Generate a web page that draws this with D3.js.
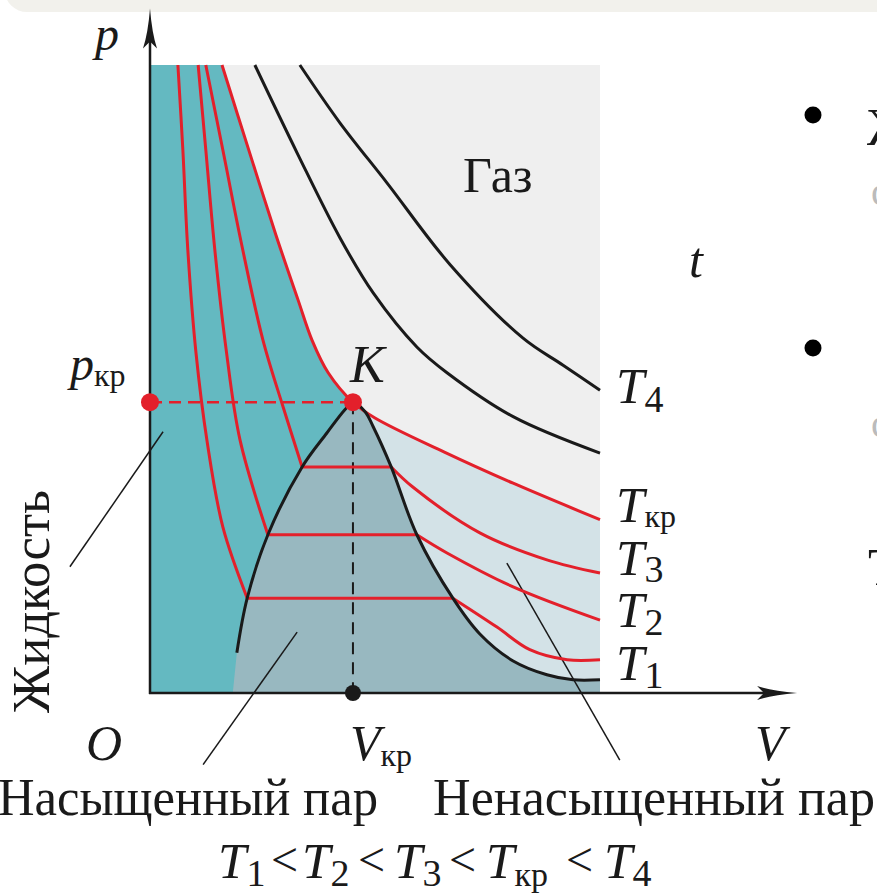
<!DOCTYPE html>
<html>
<head>
<meta charset="utf-8">
<script src="https://cdn.jsdelivr.net/npm/d3@7"></script>
<style>
    body {margin: 0; background: #fff;}
</style>
</head>
<body>
<script>
// isotherms: [V, p] in arbitrary units (0..10 on both axes)
const isoT4 = [[3.33, 10], [4.22, 9.08], [5.27, 8.12], [6.67, 6.82], [8.29, 5.65], [9.18, 5.22], [10, 4.82]];
const isoHot = [[2.33, 10], [3.29, 8.57], [4.22, 7.25], [4.96, 6.37], [5.93, 5.51], [6.6, 5.1], [8.07, 4.4], [10, 3.82]];
const isoCrit = [[1.6, 10], [2.18, 8.68], [2.8, 7.29], [3.29, 6.26], [3.6, 5.62], [3.96, 5.1], [4.51, 4.63], [5.0, 4.38], [6.53, 3.84], [8.07, 3.34], [10, 2.76]];
const iso3Liquid = [[1.24, 10], [1.64, 8.57], [2.04, 7.13], [2.51, 5.62], [2.96, 4.55], [3.38, 3.6]];
const iso3Gas = [[5.36, 3.6], [5.84, 3.28], [7.33, 2.55], [8.82, 2.12], [10, 1.91]];
const iso2Liquid = [[1.07, 10], [1.24, 8.65], [1.44, 7.06], [1.69, 5.48], [2.0, 4.03], [2.62, 2.52]];
const iso2Gas = [[5.93, 2.52], [6.6, 2.23], [8.07, 1.69], [10, 1.16]];
const iso1Liquid = [[0.62, 10], [0.73, 8.65], [0.84, 7.06], [1.02, 5.43], [1.27, 4.0], [1.62, 2.64], [2.16, 1.51]];
const iso1Gas = [[6.73, 1.51], [7.71, 1.05], [8.44, 0.69], [9.27, 0.53], [10, 0.53]];

// boundary of the two-phase dome
const binodal = [[1.93, 0.64], [2.16, 1.51], [2.62, 2.52], [3.38, 3.6], [3.93, 4.14], [4.33, 4.51], [4.51, 4.63],
    [4.78, 4.48], [4.96, 4.24], [5.36, 3.6], [5.93, 2.52], [6.73, 1.51], [7.33, 0.94], [8.07, 0.51], [8.82, 0.29], [9.4, 0.21], [10, 0.21]];
const domeFoot = 1.84;
const critPoint = [4.51, 4.63];

// thin leader lines from labels into regions
const leaders = [
    [[0.29, 4.16], [-1.78, 2.01]],
    [[3.27, 0.97], [1.18, -1.14]],
    [[7.93, 2.07], [10.44, -1.07]]
];

const width = 877, height = 893;
const red = "#e3202b", ink = "#1a1a1a";
const serif = "'Liberation Serif', 'DejaVu Serif', 'Noto Serif', 'Times New Roman', serif";

const svg = d3.select("body").append("svg")
    .attr("width", width)
    .attr("height", height)
    .attr("font-family", serif);

let x = d3.scaleLinear().domain([0, 10]).range([150, 600]);
let y = d3.scaleLinear().domain([0, 10]).range([693, 65]);

let line = d3.line()
    .x(d => x(d[0]))
    .y(d => y(d[1]))
    .curve(d3.curveCatmullRom.alpha(0.5));

// continue a path with a curve (drop its moveTo)
const seg = pts => line(pts).replace(/^M/, "L");

// slide decoration
svg.append("rect").attr("x", 5).attr("y", -30).attr("width", 920).attr("height", 42)
    .attr("rx", 22).attr("fill", "#f2f1ec");

// regions
svg.append("rect")
    .attr("x", x(0)).attr("y", y(10))
    .attr("width", x(10) - x(0)).attr("height", y(0) - y(10))
    .attr("fill", "#efefef");

const underCrit = "M" + x(0) + "," + y(0) + "L" + x(0) + "," + y(10) + seg(isoCrit) + "L" + x(10) + "," + y(0) + "Z";

svg.append("path").attr("d", underCrit).attr("fill", "#d3e2e7");

svg.append("clipPath").attr("id", "leftOfK")
    .append("rect")
    .attr("x", x(0)).attr("y", 0)
    .attr("width", x(critPoint[0]) - x(0)).attr("height", height);

svg.append("path").attr("d", underCrit).attr("fill", "#64b9c1")
    .attr("clip-path", "url(#leftOfK)");

svg.append("path")
    .attr("d", "M" + x(domeFoot) + "," + y(0) + seg(binodal) + "L" + x(10) + "," + y(0) + "Z")
    .attr("fill", "#98b8c0");

// leader lines
svg.append('g').selectAll("line")
    .data(leaders)
    .enter()
    .append("line")
    .attr("x1", d => x(d[0][0])).attr("y1", d => y(d[0][1]))
    .attr("x2", d => x(d[1][0])).attr("y2", d => y(d[1][1]))
    .attr("stroke", ink)
    .attr("stroke-width", 1.5);

// dashed guides to the critical point
svg.append("line")
    .attr("x1", x(0)).attr("y1", y(critPoint[1]))
    .attr("x2", x(critPoint[0])).attr("y2", y(critPoint[1]))
    .attr("stroke", red).attr("stroke-width", 2.5).attr("stroke-dasharray", "12,7");

svg.append("line")
    .attr("x1", x(critPoint[0])).attr("y1", y(critPoint[1]))
    .attr("x2", x(critPoint[0])).attr("y2", y(0))
    .attr("stroke", ink).attr("stroke-width", 2).attr("stroke-dasharray", "12,8");

// isotherms
svg.append('g').selectAll("path")
    .data([isoT4, isoHot])
    .enter()
    .append("path")
    .attr("d", d => line(d))
    .attr("fill", "none").attr("stroke", ink).attr("stroke-width", 3);

svg.append('g').selectAll("path")
    .data([[isoCrit, []], [iso3Liquid, iso3Gas], [iso2Liquid, iso2Gas], [iso1Liquid, iso1Gas]])
    .enter()
    .append("path")
    .attr("d", d => line(d[0]) + (d[1].length ? seg(d[1]) : ""))
    .attr("fill", "none").attr("stroke", red).attr("stroke-width", 3);

svg.append("path")
    .attr("d", line(binodal))
    .attr("fill", "none").attr("stroke", ink).attr("stroke-width", 3);

// axes with arrow heads
const pTop = 10.9, vEnd = 14.38;
svg.append("line")
    .attr("x1", x(0)).attr("y1", y(0) + 1)
    .attr("x2", x(0)).attr("y2", y(pTop) + 20)
    .attr("stroke", ink).attr("stroke-width", 2.5);
svg.append("line")
    .attr("x1", x(0) - 1).attr("y1", y(0))
    .attr("x2", x(vEnd) - 20).attr("y2", y(0))
    .attr("stroke", ink).attr("stroke-width", 2.5);

const tipY = [x(0), y(pTop)];
svg.append("path")
    .attr("d", "M" + tipY[0] + "," + tipY[1] +
        "Q" + (tipY[0] + 2) + "," + (tipY[1] + 25) + " " + (tipY[0] + 7) + "," + (tipY[1] + 40) +
        "L" + tipY[0] + "," + (tipY[1] + 33) +
        "L" + (tipY[0] - 7) + "," + (tipY[1] + 40) +
        "Q" + (tipY[0] - 2) + "," + (tipY[1] + 25) + " " + tipY[0] + "," + tipY[1] + "Z")
    .attr("fill", ink);

const tipX = [x(vEnd), y(0)];
svg.append("path")
    .attr("d", "M" + tipX[0] + "," + tipX[1] +
        "Q" + (tipX[0] - 25) + "," + (tipX[1] + 2) + " " + (tipX[0] - 40) + "," + (tipX[1] + 7) +
        "L" + (tipX[0] - 33) + "," + tipX[1] +
        "L" + (tipX[0] - 40) + "," + (tipX[1] - 7) +
        "Q" + (tipX[0] - 25) + "," + (tipX[1] - 2) + " " + tipX[0] + "," + tipX[1] + "Z")
    .attr("fill", ink);

// points
svg.append("circle").attr("cx", x(0)).attr("cy", y(critPoint[1])).attr("r", 9).attr("fill", red);
svg.append("circle").attr("cx", x(critPoint[0])).attr("cy", y(critPoint[1])).attr("r", 9).attr("fill", red);
svg.append("circle").attr("cx", x(critPoint[0])).attr("cy", y(0)).attr("r", 8).attr("fill", ink);

// text helpers
function label(px, py, main, sub, size, subSize, subDy, italic) {
    let t = svg.append("text").attr("x", px).attr("y", py).attr("fill", ink);
    t.append("tspan")
        .attr("font-style", italic === false ? "normal" : "italic")
        .attr("font-size", size)
        .text(main);
    if (sub) {
        t.append("tspan")
            .attr("font-size", subSize)
            .attr("dy", subDy)
            .text(sub);
    }
    return t;
}

label(95, 50, "p", null, 48);
label(70, 380, "p", "кр", 48, 32, 6);
label(350, 382, "K", null, 52);
label(463, 192, "Газ", null, 50, 0, 0, false);
label(689, 277, "t", null, 50);

// isotherm names at the right ends
const isoNames = [["4", 403, 9], ["кр", 522, 5], ["3", 575, 7], ["2", 627, 8], ["1", 680, 8]];
isoNames.forEach(d => label(616, d[1], "T", d[0], 51, d[0] === "кр" ? 32 : 38, d[2]));

label(86, 760, "O", null, 50);
label(350, 760, "V", "кр", 50, 32, 6);
label(755, 760, "V", null, 50);

svg.append("text").attr("x", -2).attr("y", 815)
    .attr("font-size", 52).attr("fill", ink)
    .attr("textLength", 380).attr("lengthAdjust", "spacingAndGlyphs")
    .text("Насыщенный пар");
svg.append("text").attr("x", 433).attr("y", 815)
    .attr("font-size", 52).attr("fill", ink)
    .attr("textLength", 442).attr("lengthAdjust", "spacingAndGlyphs")
    .text("Ненасыщенный пар");

svg.append("text")
    .attr("transform", "translate(49,713) rotate(-90)")
    .attr("font-size", 52).attr("fill", ink)
    .attr("textLength", 223).attr("lengthAdjust", "spacingAndGlyphs")
    .text("Жидкость");

// T1 < T2 < T3 < Tкр < T4
const order = [["1", 218, 271], ["2", 302, 358], ["3", 394, 449], ["кр", 486, 566], ["4", 604, 0]];
order.forEach(d => {
    label(d[1], 878, "T", d[0], 51, d[0] === "кр" ? 34 : 38, 8);
    if (d[2]) {
        svg.append("text")
            .attr("x", d[2]).attr("y", 876)
            .attr("font-size", 48).attr("fill", ink)
            .text("<");
    }
});

// slide fragments at the right edge
svg.append("circle").attr("cx", 813).attr("cy", 115).attr("r", 8.5).attr("fill", "#000");
svg.append("circle").attr("cx", 813).attr("cy", 348).attr("r", 8.5).attr("fill", "#000");
svg.append("text").attr("x", 867).attr("y", 145).attr("font-size", 52).attr("fill", ink).text("Ж");
svg.append("text").attr("x", 871).attr("y", 205).attr("font-size", 40).attr("fill", "#bbb").text("с");
svg.append("text").attr("x", 871).attr("y", 437).attr("font-size", 40).attr("fill", "#bbb").text("с");
svg.append("text").attr("x", 868).attr("y", 585).attr("font-size", 52).attr("fill", ink).text("Т");
</script>
</body>
</html>
